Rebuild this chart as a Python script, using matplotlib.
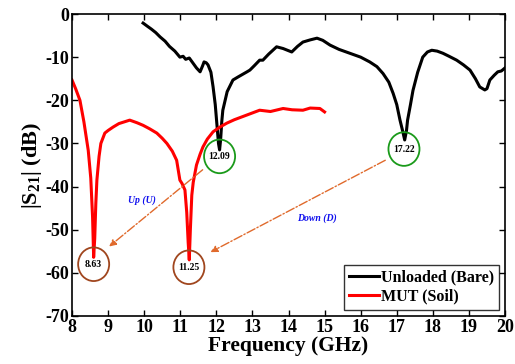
import matplotlib
matplotlib.use("Agg")
import matplotlib.pyplot as plt
from matplotlib.patches import Ellipse

plt.rcParams['font.family'] = ['Liberation Serif', 'DejaVu Serif']
plt.rcParams['mathtext.fontset'] = 'custom'
plt.rcParams['mathtext.rm'] = 'Liberation Serif:bold'
plt.rcParams['mathtext.it'] = 'Liberation Serif:bold:italic'
plt.rcParams['mathtext.bf'] = 'Liberation Serif:bold'
plt.rcParams['axes.unicode_minus'] = False

# Unloaded (Bare)
bare_f = [9.97, 10.1, 10.2, 10.32, 10.44, 10.58, 10.7, 10.85, 10.99, 11.08, 11.15, 11.25, 11.32, 11.45,
          11.55, 11.62, 11.66, 11.72, 11.77, 11.85, 11.91, 11.97, 12.02, 12.06, 12.09, 12.12, 12.15,
          12.18, 12.3, 12.46, 12.6, 12.85, 12.93, 13.05, 13.2, 13.29, 13.45, 13.67, 13.85, 14.09,
          14.25, 14.4, 14.6, 14.79, 14.95, 15.15, 15.4, 15.7, 16.0, 16.25, 16.45, 16.62, 16.78,
          16.9, 17.0, 17.09, 17.16, 17.22, 17.27, 17.3, 17.38, 17.45, 17.58, 17.72, 17.85, 17.97,
          18.12, 18.28, 18.45, 18.66, 18.85, 19.03, 19.18, 19.3, 19.44, 19.5, 19.58, 19.7, 19.8,
          19.9, 20.0]
bare_db = [-2.1, -2.9, -3.5, -4.3, -5.3, -6.3, -7.5, -8.6, -10.0, -9.8, -10.5, -10.2, -11.0, -12.5,
           -13.4, -12.0, -11.1, -11.3, -11.8, -13.5, -16.9, -21.0, -26.0, -30.0, -31.5, -29.0, -25.0,
           -22.3, -18.0, -15.3, -14.6, -13.4, -13.0, -12.0, -10.7, -10.7, -9.3, -7.6, -8.0, -8.8,
           -7.5, -6.5, -6.0, -5.6, -6.1, -7.2, -8.2, -9.1, -10.0, -11.1, -12.2, -13.8, -15.8,
           -18.4, -21.0, -24.6, -27.0, -29.2, -27.0, -24.6, -21.0, -17.7, -13.5, -10.0, -8.8, -8.4,
           -8.6, -9.1, -9.8, -10.7, -11.8, -13.0, -15.0, -16.9, -17.6, -17.3, -15.3, -14.2, -13.4,
           -13.2, -12.5]

# MUT (Soil)
soil_f = [8.0, 8.1, 8.22, 8.33, 8.45, 8.52, 8.57, 8.6, 8.63, 8.66, 8.69, 8.75, 8.8, 8.91, 9.0, 9.14,
          9.3, 9.45, 9.6, 9.8, 9.97, 10.15, 10.35, 10.5, 10.63, 10.78, 10.9, 10.99, 11.05, 11.13,
          11.18, 11.22, 11.25, 11.28, 11.32, 11.36, 11.45, 11.55, 11.63, 11.75, 11.91, 12.1, 12.29,
          12.5, 12.85, 13.2, 13.5, 13.85, 14.1, 14.4, 14.6, 14.87, 15.0]
soil_db = [-15.3, -17.3, -20.0, -25.0, -31.6, -38.0, -47.0, -56.4, -52.0, -44.0, -38.5, -33.0, -30.0,
           -27.6, -27.0, -26.2, -25.4, -25.0, -24.6, -25.2, -25.8, -26.6, -27.6, -28.8, -30.0, -31.8,
           -33.9, -38.5, -39.3, -40.8, -46.0, -53.0, -57.0, -50.0, -42.0, -39.0, -35.0, -32.5, -30.8,
           -29.0, -27.3, -26.2, -25.3, -24.5, -23.4, -22.3, -22.6, -21.9, -22.2, -22.3, -21.8, -21.9,
           -22.7]

peak_labels = ["12.09", "17.22", "8.63", "11.25"]

fig = plt.figure(figsize=(5.15, 3.64), dpi=100)
ax = fig.add_axes([0.1398, 0.1319, 0.8408, 0.8296])

ax.plot(bare_f, bare_db, color='black', lw=2.2, label='Unloaded (Bare)')
ax.plot(soil_f, soil_db, color='red', lw=2.2, label='MUT (Soil)')

ax.set_xlim(8, 20)
ax.set_ylim(-70, 0)
ax.set_xticks(range(8, 21))
ax.set_yticks(range(-70, 1, 10))
ax.tick_params(direction='in', top=True, right=True, length=4, width=1, labelsize=13, pad=2)
for lab in ax.get_xticklabels() + ax.get_yticklabels():
    lab.set_fontweight('bold')
for s in ax.spines.values():
    s.set_linewidth(1.2)

ax.set_xlabel('Frequency (GHz)', fontsize=15.5, fontweight='bold', labelpad=0)
ax.set_ylabel(r'$\mathbf{|S_{21}|}$ (dB)', fontsize=16, fontweight='bold', labelpad=1)

# circles with labels
circ = [(12.09, -33.0, '#1a9a1a', peak_labels[0]),
        (17.2, -31.3, '#1a9a1a', peak_labels[1]),
        (8.6, -58.0, '#a0461e', peak_labels[2]),
        (11.24, -58.7, '#a0461e', peak_labels[3])]
for cx, cy, col, txt in circ:
    ax.add_patch(Ellipse((cx, cy), 0.86, 7.8, fill=False, edgecolor=col, lw=1.3, zorder=5))
    ax.text(cx, cy, txt, ha='center', va='center', fontsize=7, fontweight='bold', zorder=6)

arrow_col = '#e06a2c'
ax.annotate('', xy=(8.97, -54.3), xytext=(11.68, -35.7),
            arrowprops=dict(arrowstyle='-|>', color=arrow_col, lw=1.0, ls='-.',
                            mutation_scale=10))
ax.annotate('', xy=(11.77, -55.5), xytext=(16.75, -33.6),
            arrowprops=dict(arrowstyle='-|>', color=arrow_col, lw=1.0, ls='-.',
                            mutation_scale=10))
ax.text(9.94, -43.2, 'Up (U)', color='#1010ee', fontsize=7, fontstyle='italic',
        fontweight='bold', ha='center', va='center')
ax.text(14.78, -47.3, 'Down (D)', color='#1010ee', fontsize=7, fontstyle='italic',
        fontweight='bold', ha='center', va='center')

leg = ax.legend(loc='lower right', prop={'weight': 'bold', 'size': 11.5}, frameon=True,
                fancybox=False, edgecolor='black', handlelength=1.9, handletextpad=0.1,
                borderpad=0.3, labelspacing=0.2, borderaxespad=0.4)
leg.get_frame().set_linewidth(1.0)

fig.savefig('out.png', dpi=100)
